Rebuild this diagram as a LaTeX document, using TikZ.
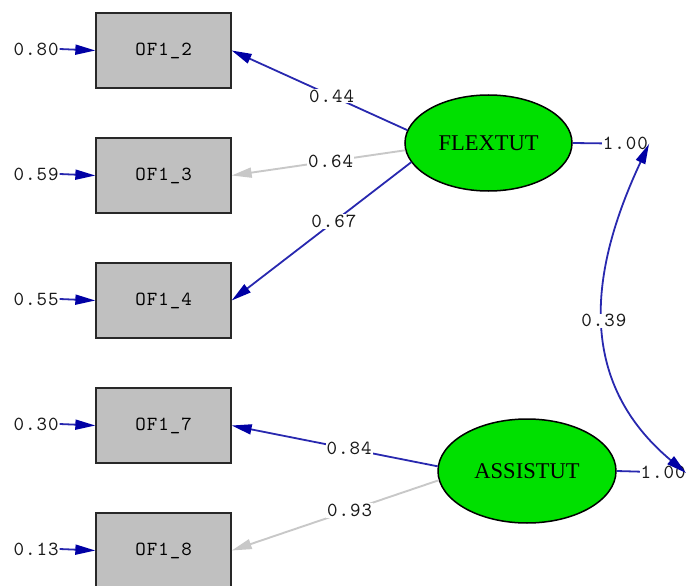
\documentclass[tikz,border=0pt]{standalone}
\usepackage{fontspec}
\usetikzlibrary{arrows.meta,shapes.geometric}
\newfontfamily\serifbig{Liberation Serif}
\newfontfamily\lmmono{lmmono10-regular.otf}[LetterSpace=5]
\newcommand\numfont{\fontsize{20}{20}\selectfont\lmmono}
\definecolor{lineblue}{RGB}{40,40,175}
\definecolor{headblue}{RGB}{0,0,165}
\definecolor{lgray}{RGB}{200,200,200}
\definecolor{boxgray}{RGB}{192,192,192}
\definecolor{latgreen}{RGB}{0,224,0}
\tikzset{
  obsbox/.style={draw={rgb,255:red,40;green,40;blue,40}, line width=1.3pt, fill=boxgray, minimum width=135pt, minimum height=75pt, inner sep=0pt, font=\numfont},
  latent/.style={ellipse, draw=black, line width=1.5pt, fill=latgreen, inner sep=0pt, font=\fontsize{22.5}{22.5}\selectfont\serifbig},
  bluearr/.style={draw=lineblue, line width=1.8pt, -{Triangle[length=20pt,width=10pt,color=headblue]}},
  grayarr/.style={draw=lgray, line width=1.9pt, -{Triangle[length=20pt,width=10pt,color=lgray]}},
  numlbl/.style={fill=white, inner sep=1pt, font=\numfont, text=black!90},
  errlbl/.style={inner sep=1pt, font=\numfont, text=black!90},
}
\begin{document}
\begin{tikzpicture}[x=1pt,y=-1pt]
\useasboundingbox (0,0) rectangle (689,586);
\node[obsbox] (b2) at (163.5,50.5) {OF1\_2};
\node[obsbox] (b3) at (163.5,175.5) {OF1\_3};
\node[obsbox] (b4) at (163.5,300.5) {OF1\_4};
\node[obsbox] (b7) at (163.5,425.5) {OF1\_7};
\node[obsbox] (b8) at (163.5,550.5) {OF1\_8};

\node[latent, minimum width=167pt, minimum height=96pt] (flex) at (488.5,143) {FLEXTUT};
\node[latent, minimum width=178pt, minimum height=104pt] (assi) at (527,471) {ASSISTUT};

\node[errlbl] (e2) at (36,49) {0.80};
\node[errlbl] (e3) at (36,174) {0.59};
\node[errlbl] (e4) at (36,299) {0.55};
\node[errlbl] (e7) at (36,424) {0.30};
\node[errlbl] (e8) at (36,549) {0.13};
\foreach \i in {2,3,4,7,8} {\draw[bluearr] (e\i.east) -- (b\i.west);}

\draw[bluearr] (flex.171) -- node[numlbl, pos=0.43] {0.44} (b2.east);
\draw[grayarr] (flex.185) -- node[numlbl, pos=0.43] {0.64} (b3.east);
\draw[bluearr] (flex.194) -- node[numlbl, pos=0.43] {0.67} (b4.east);
\draw[bluearr] (assi.177) -- node[numlbl, pos=0.43] {0.84} (b7.east);
\draw[grayarr] (assi.186) -- node[numlbl, pos=0.43] {0.93} (b8.east);

\coordinate (f1) at (649,144);
\coordinate (f2) at (686,473);
\draw[draw=lineblue, line width=1.8pt] (flex.east) -- node[numlbl, pos=0.69] {1.00} (f1);
\draw[draw=lineblue, line width=1.8pt] (assi.east) -- node[numlbl, pos=0.67] {1.00} (f2);

\draw[draw=lineblue, line width=1.8pt, {Triangle[length=20pt,width=10pt,color=headblue]}-{Triangle[length=20pt,width=10pt,color=headblue]}]
  (f1) .. controls (590,270) and (575,380) .. node[numlbl, pos=0.5] {0.39} (f2);
\end{tikzpicture}
\end{document}
